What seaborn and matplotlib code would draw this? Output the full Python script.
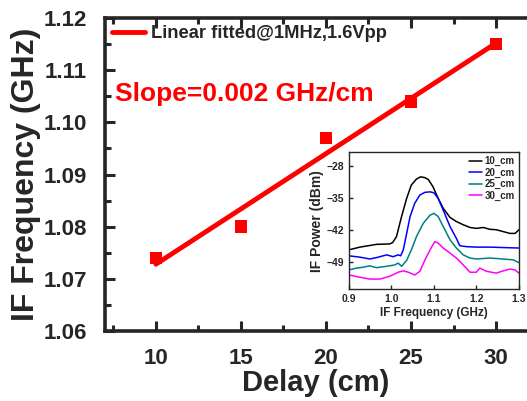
import numpy as np
import pandas as pd
import matplotlib
matplotlib.use("Agg")
import matplotlib.pyplot as plt
import seaborn as sns
from matplotlib.ticker import MultipleLocator, AutoMinorLocator

# main panel: IF frequency vs delay
delay_cm = [10, 15, 20, 25, 30]
if_freq_ghz = [1.074, 1.080, 1.097, 1.104, 1.115]

# inset spectra
f_10 = [0.900, 0.926, 0.965, 0.996, 1.003, 1.012, 1.024, 1.036, 1.047, 1.059, 1.069, 1.079, 1.087,
        1.098, 1.110, 1.122, 1.138, 1.153, 1.169, 1.185, 1.200, 1.216, 1.232, 1.247, 1.263, 1.279, 1.291, 1.300]
p_10 = [-46.4, -45.8, -45.2, -45.1, -44.8, -43.5, -39.1, -35.1, -32.2, -30.9, -30.4, -30.6, -31.0,
        -32.6, -35.1, -37.3, -39.3, -40.2, -40.9, -41.5, -41.7, -41.5, -41.9, -42.0, -42.4, -42.8, -42.8, -42.0]

f_20 = [0.900, 0.926, 0.949, 0.965, 0.989, 1.004, 1.016, 1.022, 1.028, 1.036, 1.044, 1.055, 1.067,
        1.079, 1.091, 1.100, 1.110, 1.122, 1.138, 1.153, 1.161, 1.177, 1.200, 1.232, 1.263, 1.300]
p_20 = [-47.7, -48.0, -48.4, -48.1, -47.5, -47.9, -47.5, -47.7, -46.4, -42.8, -39.1, -36.2, -34.4,
        -33.8, -33.7, -33.9, -35.1, -37.7, -41.3, -43.9, -45.5, -45.7, -45.8, -45.8, -45.9, -46.0]

f_25 = [0.900, 0.918, 0.934, 0.949, 0.965, 0.989, 1.008, 1.016, 1.024, 1.036, 1.047, 1.059, 1.075,
        1.091, 1.100, 1.110, 1.122, 1.138, 1.153, 1.169, 1.185, 1.200, 1.232, 1.263, 1.287, 1.300]
p_25 = [-50.8, -50.4, -50.2, -49.9, -50.3, -50.0, -49.7, -49.3, -50.0, -48.7, -46.4, -43.5, -40.6,
        -38.8, -38.4, -39.1, -41.3, -44.2, -46.0, -47.5, -48.2, -48.4, -48.2, -48.4, -48.6, -49.2]

f_30 = [0.900, 0.926, 0.949, 0.973, 0.996, 1.016, 1.028, 1.040, 1.055, 1.067, 1.079, 1.091, 1.102,
        1.110, 1.122, 1.138, 1.153, 1.169, 1.185, 1.200, 1.208, 1.224, 1.247, 1.263, 1.279, 1.291, 1.300]
p_30 = [-51.9, -52.4, -52.8, -52.8, -52.2, -51.3, -51.0, -51.3, -51.9, -51.1, -48.6, -46.4, -44.6,
        -44.9, -46.0, -47.1, -48.2, -49.7, -51.3, -51.3, -50.4, -51.1, -51.5, -51.0, -50.6, -50.8, -51.5]

labels = ["10_cm", "20_cm", "25_cm", "30_cm"]
colors = ["black", "#0000ff", "#008080", "#ff00ff"]

sns.set_style("ticks")
plt.rcParams["font.family"] = ["Liberation Sans", "DejaVu Sans"]
plt.rcParams["font.weight"] = "bold"
plt.rcParams["axes.labelweight"] = "bold"

fig = plt.figure(figsize=(5.27, 4.01), dpi=100)
ax = fig.add_axes([0.199, 0.1746, 0.801, 0.7804])

main = pd.DataFrame({"delay": delay_cm, "freq": if_freq_ghz})
slope, icpt = np.polyfit(main["delay"], main["freq"], 1)
fit = pd.DataFrame({"delay": [delay_cm[0], delay_cm[-1]]})
fit["freq"] = slope * fit["delay"] + icpt

sns.lineplot(data=fit, x="delay", y="freq", color="#ff0000", lw=3.5, ax=ax,
             label="Linear fitted@1MHz,1.6Vpp", zorder=2)
sns.scatterplot(data=main, x="delay", y="freq", marker="s", s=80, color="#ff0000",
                edgecolor="none", ax=ax, zorder=3)

ax.set_xlim(7, 31.82)
ax.set_ylim(1.06, 1.12)
ax.xaxis.set_major_locator(MultipleLocator(5))
ax.xaxis.set_minor_locator(AutoMinorLocator(2))
ax.yaxis.set_major_locator(MultipleLocator(0.01))
ax.yaxis.set_minor_locator(AutoMinorLocator(2))
ax.tick_params(which="both", direction="in", top=True, width=2.2, labelsize=16)
ax.tick_params(which="major", length=7)
ax.tick_params(which="minor", length=4)
ax.tick_params(axis="x", pad=12)
ax.tick_params(axis="y", pad=13)
for lab in ax.get_xticklabels() + ax.get_yticklabels():
    lab.set_fontweight("bold")
for side in ["left", "bottom", "top"]:
    ax.spines[side].set_linewidth(2.6)
ax.spines["right"].set_visible(False)
ax.set_xlabel("Delay (cm)", fontsize=21, fontweight="bold", labelpad=0)
ax.set_ylabel("IF Frequency (GHz)", fontsize=23, fontweight="bold", labelpad=2)
ax.legend(loc="upper left", frameon=False, handlelength=1.8, handletextpad=0.3,
          borderaxespad=0.1, borderpad=0.3, prop={"weight": "bold", "size": 13.2})
ax.text(0.024, 0.735, "Slope=0.002 GHz/cm", transform=ax.transAxes, color="#ff0000",
        fontsize=19, fontweight="bold", va="baseline")

# inset
ins = fig.add_axes([0.662, 0.279, 0.3226, 0.3416])
spectra = pd.concat([
    pd.DataFrame({"f": f, "p": p, "delay": lab})
    for f, p, lab in zip([f_10, f_20, f_25, f_30], [p_10, p_20, p_25, p_30], labels)
])
sns.lineplot(data=spectra, x="f", y="p", hue="delay", palette=dict(zip(labels, colors)),
             lw=1.1, sort=False, estimator=None, ax=ins)
ins.set_xlim(0.9, 1.3)
ins.set_ylim(-55, -25)
ins.set_xticks([0.9, 1.0, 1.1, 1.2, 1.3])
ins.set_yticks([-28, -35, -42, -49])
ins.tick_params(direction="in", width=1, length=3, labelsize=7.5, top=False, right=False)
for lab in ins.get_xticklabels() + ins.get_yticklabels():
    lab.set_fontweight("bold")
for s in ins.spines.values():
    s.set_linewidth(1)
ins.set_xlabel("IF Frequency (GHz)", fontsize=8.5, fontweight="bold", labelpad=2)
ins.set_ylabel("IF Power (dBm)", fontsize=10, fontweight="bold", labelpad=2)
ins.legend(loc="upper right", frameon=False, handlelength=1.3,
           handletextpad=0.3, labelspacing=0.15, borderaxespad=0.0,
           prop={"weight": "bold", "size": 7})

fig.savefig("out.png", dpi=100)
